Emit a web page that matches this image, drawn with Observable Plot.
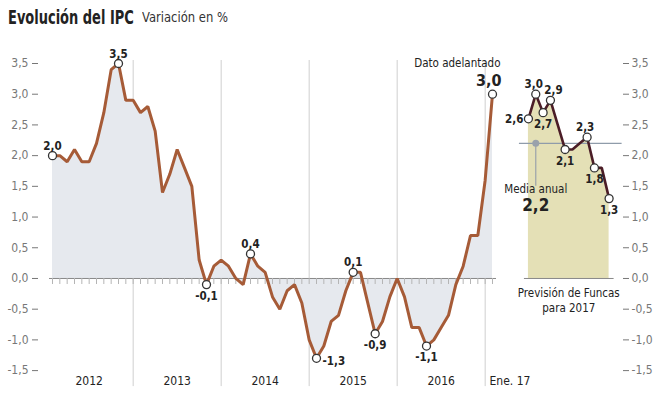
<!DOCTYPE html>
<html><head><meta charset="utf-8">
<script src="https://cdn.jsdelivr.net/npm/d3@7"></script>
<script src="https://cdn.jsdelivr.net/npm/@observablehq/plot@0.6"></script>
<style>
body{margin:0;background:#fff;}
#wrap{width:664px;height:394px;position:relative;overflow:hidden;font-family:"Liberation Sans Narrow","DejaVu Sans Condensed","Roboto Condensed",Roboto,sans-serif;font-stretch:condensed;}
#title{height:36px;position:relative;white-space:nowrap;color:#222;}
#title .t{position:absolute;left:8px;top:6px;font-size:19px;font-weight:700;display:inline-block;transform:scaleX(0.76);transform-origin:0 0;}
#title .s{position:absolute;left:142px;top:9px;font-size:14px;color:#333;display:inline-block;transform:scaleX(0.92);transform-origin:0 0;}
#chart svg{display:block;overflow:visible;}
</style></head>
<body><div id="wrap"><div id="title"><span class="t">Evolución del IPC</span><span class="s">Variación en %</span></div><div id="chart"></div></div>
<script>
// ---- data ----
const years = ["2012","2013","2014","2015","2016"];
const lastLabel = "Ene. 17";
const cpiMonthly = [
  2.0,2.0,1.9,2.1,1.9,1.9,2.2,2.7,3.4,3.5,2.9,2.9,
  2.7,2.8,2.4,1.4,1.7,2.1,1.8,1.5,0.3,-0.1,0.2,0.3,
  0.2,0.0,-0.1,0.4,0.2,0.1,-0.3,-0.5,-0.2,-0.1,-0.4,-1.0,
  -1.3,-1.1,-0.7,-0.6,-0.2,0.1,0.1,-0.4,-0.9,-0.7,-0.3,0.0,
  -0.3,-0.8,-0.8,-1.1,-1.0,-0.8,-0.6,-0.1,0.2,0.7,0.7,1.6,
  3.0
];
const forecast2017 = [2.6,3.0,2.7,2.9,2.5,2.1,2.1,2.2,2.3,1.8,1.8,1.3];
const forecastMean = 2.2;
const yTicks = [-1.5,-1.0,-0.5,0,0.5,1.0,1.5,2.0,2.5,3.0,3.5];
const labelsMain = {top:[0,9,27,41], bottom:[21,44,51], right:[36]};
const labelsForecast = {left:[0], top:[1,8], topRight:[3], bottom:[2,5,9], bottomLeft:[11]};
const texts = {dato:"Dato adelantado", media:"Media anual", prev1:"Previsión de Funcas", prev2:"para 2017"};

// ---- layout ----
const FONT = '"Liberation Sans Narrow","DejaVu Sans Condensed","Roboto Condensed",Roboto,sans-serif';
const T = 36, W = 664, H = 358;
const FSTART = 64.9; // x-index where the forecast panel begins
const fmt = v => v.toFixed(1).replace(".", ",");
const main = cpiMonthly.map((v,i)=>({i,v}));
const fc = forecast2017.map((v,j)=>({i:FSTART+j,v}));
const last = main.length-1;
const pick = (arr, idx) => idx.map(k=>arr[k]);
const dividers = years.map((_,k)=>11+12*k);
const yearPos = years.map((y,k)=>({y, i:5+12*k}));
const monthIdx = d3.range(0, main.length);
const labelStyle = {fontWeight:"bold", fontSize:11.5, fill:"#222"};

const chart = Plot.plot({
  width: W, height: H,
  marginLeft: 38, marginRight: 42, marginTop: 0, marginBottom: H-(278-T),
  style: {fontFamily: FONT, fontSize: "12px", background: "transparent"},
  x: {type:"linear", domain:[0,60], range:[52,492], label:null},
  y: {domain:[-1.5,3.5], range:[370.1-T, 63-T], label:null},
  marks: [
    Plot.ruleX(dividers, {x:d=>d, y1:3.5, y2:-1.5, insetTop:-3, insetBottom:-16, stroke:"#cfcfcf", strokeWidth:1}),
    Plot.areaY(main, {x:"i", y:"v", fill:"#e6e9ee"}),
    Plot.areaY(fc, {x:"i", y:"v", fill:"#e4e0b6"}),
    Plot.areaY(fc, {x:"i", y:"v", fill:"#cdc58a", ariaLabel:"forecast-dark"}),
    Plot.ruleY([0], {x1:0, x2:last, insetLeft:-3, insetRight:-4, stroke:"#888", strokeWidth:1}),
    Plot.ruleY([0], {x1:FSTART, x2:FSTART+11, insetLeft:-4, insetRight:-5, stroke:"#888", strokeWidth:1}),
    Plot.axisX({ticks: monthIdx, anchor:"bottom", tickSize:6, tickFormat:()=>"", stroke:"#b5b5b5", label:null}),
    Plot.axisY({ticks: yTicks, anchor:"left", tickSize:6, tickPadding:4, tickFormat:fmt, color:"#777", fontSize:12, label:null}),
    Plot.axisY({ticks: yTicks, anchor:"right", tickSize:6, tickPadding:3, tickFormat:fmt, color:"#777", fontSize:12, label:null}),
    Plot.ruleY([forecastMean], {x1:FSTART, x2:FSTART+11, insetLeft:-9, insetRight:-13, stroke:"#8f9caa", strokeWidth:1.2}),
    Plot.ruleX([forecastMean], {x:FSTART+1, y1:forecastMean, y2:forecastMean, insetBottom:-43, stroke:"#9aa2ab", strokeWidth:1.2}),
    Plot.dot([forecastMean], {x:FSTART+1, y:d=>d, r:3.5, fill:"#9aa2ab"}),
    Plot.line(main, {x:"i", y:"v", stroke:"#a65b37", strokeWidth:3, strokeLinejoin:"miter"}),
    Plot.line(fc, {x:"i", y:"v", stroke:"#4b1d27", strokeWidth:2.6, strokeLinejoin:"miter"}),
    Plot.dot([...pick(main,[...labelsMain.top,...labelsMain.bottom,...labelsMain.right,last])], {x:"i", y:"v", r:4, fill:"white", stroke:"#333", strokeWidth:1.3}),
    Plot.dot(pick(fc,[0,1,2,3,5,8,9,11]), {x:"i", y:"v", r:4, fill:"white", stroke:"#333", strokeWidth:1.3}),
    // main labels
    Plot.text(pick(main,labelsMain.top), {x:"i", y:"v", text:d=>fmt(d.v), lineAnchor:"bottom", dy:-6, ...labelStyle}),
    Plot.text(pick(main,labelsMain.bottom), {x:"i", y:"v", text:d=>fmt(d.v), lineAnchor:"top", dy:7, ...labelStyle}),
    Plot.text(pick(main,labelsMain.right), {x:"i", y:"v", text:d=>fmt(d.v), textAnchor:"start", dx:6, dy:3, ...labelStyle}),
    Plot.text([main[last]], {x:"i", y:"v", text:d=>fmt(d.v), textAnchor:"end", lineAnchor:"bottom", dx:9, dy:-8, fontWeight:"bold", fontSize:16, fill:"#222"}),
    Plot.text([main[last]], {x:"i", y:"v", text:()=>texts.dato, textAnchor:"end", lineAnchor:"bottom", dx:8, dy:-27, fontSize:11.5, fill:"#222"}),
    // forecast labels
    Plot.text(pick(fc,labelsForecast.left), {x:"i", y:"v", text:d=>fmt(d.v), textAnchor:"end", dx:-5, dy:1, ...labelStyle}),
    Plot.text(pick(fc,labelsForecast.top), {x:"i", y:"v", text:d=>fmt(d.v), lineAnchor:"bottom", dx:-2, dy:-6, ...labelStyle}),
    Plot.text(pick(fc,labelsForecast.topRight), {x:"i", y:"v", text:d=>fmt(d.v), lineAnchor:"bottom", dx:3, dy:-6, ...labelStyle}),
    Plot.text(pick(fc,labelsForecast.bottom), {x:"i", y:"v", text:d=>fmt(d.v), lineAnchor:"top", dy:7, ...labelStyle}),
    Plot.text(pick(fc,labelsForecast.bottomLeft), {x:"i", y:"v", text:d=>fmt(d.v), lineAnchor:"top", dx:0, dy:7, ...labelStyle}),
    Plot.text([forecastMean], {x:FSTART+1, y:d=>d, text:()=>texts.media, dy:46, fontSize:11.5, fill:"#222"}),
    Plot.text([forecastMean], {x:FSTART+1, y:d=>d, text:d=>fmt(d), dy:62, fontSize:17, fontWeight:"bold", fill:"#222"}),
    Plot.text([0], {x:FSTART+5.5, y:d=>d, text:()=>texts.prev1, dy:15, fontSize:11.5, fill:"#222"}),
    Plot.text([0], {x:FSTART+5.5, y:d=>d, text:()=>texts.prev2, dy:30, fontSize:11.5, fill:"#222"}),
    // year labels
    Plot.text(yearPos, {x:"i", y:()=>-1.5, text:"y", dy:11, fontSize:12, fill:"#222"}),
    Plot.text([lastLabel], {x:()=>last, y:()=>-1.5, text:d=>d, textAnchor:"start", dx:-3, dy:11, fontSize:12, fill:"#222"})
  ]
});
document.getElementById("chart").appendChild(chart);
const svg = chart.tagName.toLowerCase()==="svg" ? chart : chart.querySelector("svg");
const ym = chart.scale("y").apply(forecastMean);
const sel = d3.select(svg);
sel.append("defs").append("clipPath").attr("id","belowMean")
  .append("rect").attr("x",0).attr("y",ym).attr("width",W).attr("height",H);
sel.select('g[aria-label="forecast-dark"]').attr("clip-path","url(#belowMean)");
</script></body></html>
